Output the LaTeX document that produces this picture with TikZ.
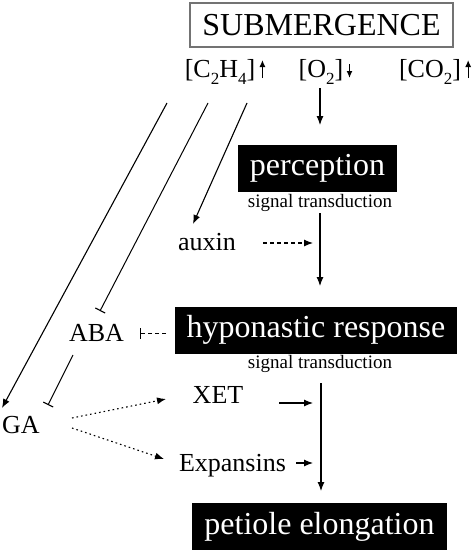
\documentclass[tikz,border=0pt]{standalone}
\usepackage{fontspec}
\setmainfont{Liberation Serif}
\usetikzlibrary{arrows.meta}
\newcommand{\lowsub}[1]{\raisebox{-0.28em}{\fontsize{17}{20}\selectfont #1}}
\begin{document}
\begin{tikzpicture}[x=1pt,y=-1pt,
  lbl/.style={inner sep=0pt,anchor=base,font=\fontsize{26}{30}\selectfont},
  blackbox/.style={fill=black,text=white,inner sep=0pt,font=\fontsize{32}{36}\selectfont,minimum height=47pt},
  smalltxt/.style={inner sep=0pt,anchor=base,font=\fontsize{19}{22}\selectfont},
  arr/.style={line width=1.1pt,-{Latex[length=9pt,width=7pt]}},
  tinyarr/.style={line width=1.3pt,-{Latex[length=7pt,width=6pt]}},
  inh/.style={line width=1pt,-{Bar[width=11pt,line width=1.1pt]}},
  dashedln/.style={dash pattern=on 4pt off 3pt},
  dottedln/.style={dash pattern=on 1.6pt off 3pt},
]
\useasboundingbox (0,0) rectangle (474,554);

% top box
\node[draw=black!55,line width=1.5pt,inner sep=0pt,minimum width=263pt,minimum height=44pt,
      font=\fontsize{32}{36}\selectfont] (sub) at (321.5,25) {SUBMERGENCE};

% gases
\node[lbl] (c2h4) at (220,77) {[C\lowsub{2}H\lowsub{4}]};
\node[lbl] (o2) at (321,77) {[O\lowsub{2}]};
\node[lbl] (co2) at (430,77) {[CO\lowsub{2}]};
\draw[tinyarr] ([xshift=7pt,yshift=-1pt]c2h4.base east) -- ++(0,-18);
\draw[tinyarr] ([xshift=6pt,yshift=13pt]o2.base east) -- ++(0,14);
\draw[tinyarr] ([xshift=7pt,yshift=-1pt]co2.base east) -- ++(0,-18);

% boxes
\node[blackbox,minimum width=159pt] (perc) at (317.5,168.5) {perception};
\node[smalltxt] (st1) at (320,207) {signal transduction};
\node[blackbox,minimum width=282pt] (hypo) at (316,330) {hyponastic response};
\node[smalltxt] (st2) at (320,368) {signal transduction};
\node[blackbox,minimum width=255pt] (pet) at (319.5,526.5) {petiole elongation};

% labels
\node[lbl] (auxin) at (207,250) {auxin};
\node[lbl] (aba) at (96.5,341) {ABA};
\node[lbl] (ga) at (21,433) {GA};
\node[lbl] (xet) at (218,403) {XET};
\node[lbl] (exp) at (232.5,471) {Expansins};

% coordinates for free ends
\coordinate (o2s) at (320,88);   \coordinate (o2e) at (320,125);
\coordinate (p1s) at (320,213);  \coordinate (p1e) at (320,286);
\coordinate (p2s) at (321,383);  \coordinate (p2e) at (321,491);
\coordinate (l1s) at (167,103);  \coordinate (l1e) at (2,408);
\coordinate (l2s) at (208,103);  \coordinate (l2e) at (100,311);
\coordinate (l3s) at (247,103);  \coordinate (l3e) at (193,224);
\coordinate (auxs) at (263,243); \coordinate (auxe) at (313,243);
\coordinate (xets) at (279,403); \coordinate (xete) at (313,403);
\coordinate (exps) at (296,463); \coordinate (expe) at (313,463);
\coordinate (hys) at (166,333);  \coordinate (hye) at (140,333);
\coordinate (abs) at (73,355);   \coordinate (abe) at (48,405);
\coordinate (ga1) at (72,418);   \coordinate (ga1e) at (166,399);
\coordinate (ga2) at (72,428);   \coordinate (ga2e) at (164,459);

% main chain
\draw[arr] (o2s) -- (o2e);
\draw[arr] (p1s) -- (p1e);
\draw[arr] (p2s) -- (p2e);

% ethylene lines
\draw[arr] (l1s) -- (l1e);
\draw[inh] (l2s) -- (l2e);
\draw[arr] (l3s) -- (l3e);

% side inputs
\draw[arr,dashedln] (auxs) -- (auxe);
\draw[arr] (xets) -- (xete);
\draw[arr] (exps) -- (expe);
\draw[inh,dashedln] (hys) -- (hye);
\draw[inh] (abs) -- (abe);
\draw[arr,dottedln] (ga1) -- (ga1e);
\draw[arr,dottedln] (ga2) -- (ga2e);
\end{tikzpicture}
\end{document}
